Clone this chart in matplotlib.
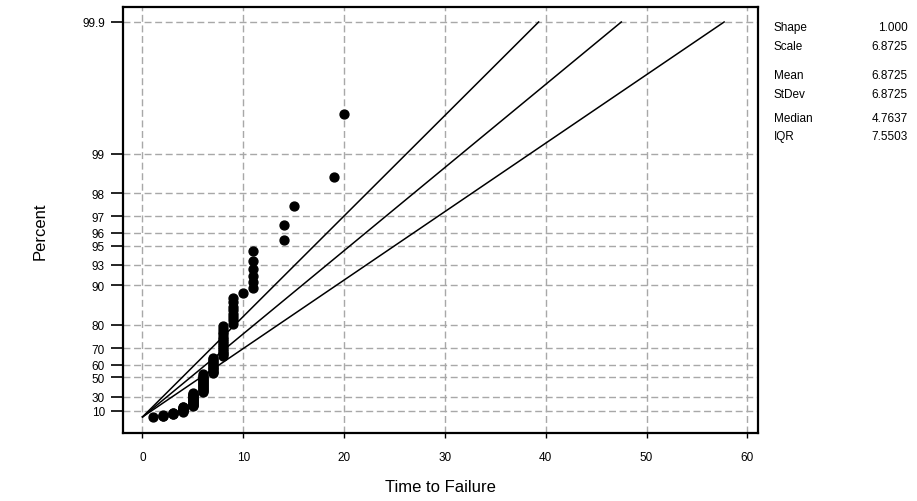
import numpy as np
import matplotlib.pyplot as plt

plt.rcParams['font.family'] = ['Liberation Sans', 'DejaVu Sans']

# failure times and how many units failed at each time
fail_times = [1, 2, 3, 4, 5, 6, 7, 8, 9, 10, 11, 14, 15, 19, 20]
fail_counts = [1, 3, 4, 9, 18, 18, 12, 15, 8, 1, 6, 2, 1, 1, 1]

# fitted exponential line and 95% bounds (percent -> time)
line_pct = [0.1, 99.9]
fit_t = [0.007, 47.5]
lo_t = [0.006, 39.3]
hi_t = [0.008, 57.7]

pct_ticks = [10, 30, 50, 60, 70, 80, 90, 93, 95, 96, 97, 98, 99, 99.9]
x_ticks = [0, 10, 20, 30, 40, 50, 60]

stat_names = ['Shape', 'Scale', 'Mean', 'StDev', 'Median', 'IQR']
stat_vals = ['1.000', '6.8725', '6.8725', '6.8725', '4.7637', '7.5503']


def q(p):
    # exponential probability scale
    return -np.log(1 - np.asarray(p, dtype=float) / 100.0)


t = np.repeat(fail_times, fail_counts)
n = len(t)
pos = (np.arange(1, n + 1) - 0.5) / n * 100

W, H = 917, 502
fig = plt.figure(figsize=(W / 100, H / 100), dpi=100)
ax = fig.add_axes([123 / W, 1 - 433.7 / H, (758 - 123) / W, (433.7 - 8) / H])

ax.grid(True, color='#a8a8a8', linestyle=(0, (5, 2.6)), linewidth=1.0)
ax.set_axisbelow(True)

for tt in (lo_t, fit_t, hi_t):
    ax.plot(tt, q(line_pct), color='black', lw=1.1, zorder=3)

ax.plot(t, q(pos), 'o', color='black', ms=6.4, mec='black', zorder=4)

ax.set_xlim(-1.93, 61.06)
ax.set_ylim(-0.275, 7.17)
ax.set_xticks(x_ticks)
ax.set_yticks(q(pct_ticks))
ax.set_yticklabels([str(p) for p in pct_ticks])

ax.tick_params(axis='y', direction='out', length=9, width=1.2, pad=4, labelsize=8.5, colors='black')
ax.tick_params(axis='x', direction='out', length=3.5, width=1.0, pad=10, labelsize=8.5, colors='black')
for s in ax.spines.values():
    s.set_linewidth(1.6)

ax.set_xlabel('Time to Failure', fontsize=12, labelpad=11)
fig.text(40 / W, 1 - 231 / H, 'Percent', rotation=90, fontsize=12, ha='center', va='center')

rows_y = [28, 47, 76, 94.5, 119, 137]
for name, val, y in zip(stat_names, stat_vals, rows_y):
    fig.text(774 / W, 1 - y / H, name, fontsize=8.5, ha='left', va='center')
    fig.text(908 / W, 1 - y / H, val, fontsize=8.5, ha='right', va='center')

fig.savefig('out.png', dpi=100)
